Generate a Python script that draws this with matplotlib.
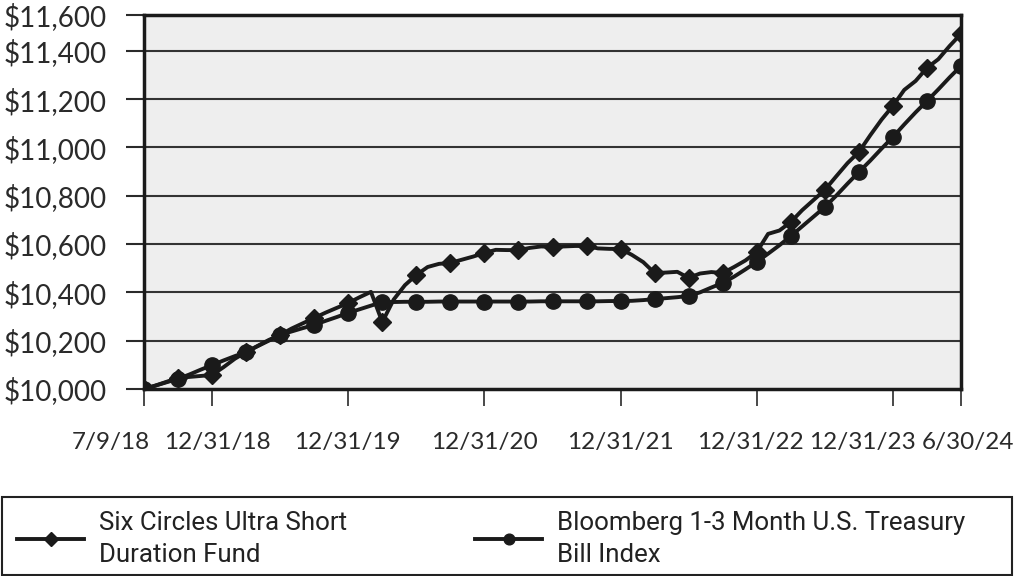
import matplotlib
matplotlib.use("Agg")
import matplotlib.pyplot as plt
import matplotlib.transforms as mtransforms
from matplotlib.patches import Rectangle
import numpy as np

# monthly growth of $10,000, first point 7/9/18, then month ends to 6/30/24
fund = [10000, 10014, 10030, 10046, 10050, 10054, 10058, 10090, 10125, 10153,
        10178, 10203, 10224, 10250, 10272, 10294, 10316, 10336, 10356, 10380,
        10402, 10277, 10370, 10430, 10472, 10505, 10518, 10522, 10535, 10548,
        10563, 10576, 10575, 10575, 10584, 10590, 10588, 10590, 10592, 10592,
        10582, 10580, 10580, 10555, 10525, 10480, 10482, 10485, 10460, 10478,
        10484, 10480, 10505, 10532, 10567, 10642, 10656, 10691, 10740, 10782,
        10824, 10880, 10935, 10981, 11050, 11115, 11172, 11238, 11275, 11329,
        11365, 11420, 11470]
index = [10000, 10014, 10028, 10042, 10060, 10080, 10099, 10118, 10136, 10153,
         10177, 10200, 10224, 10238, 10252, 10265, 10282, 10298, 10315, 10330,
         10345, 10360, 10360, 10361, 10361, 10361, 10362, 10362, 10362, 10362,
         10362, 10362, 10362, 10362, 10362, 10363, 10363, 10363, 10363, 10363,
         10363, 10364, 10364, 10365, 10368, 10372, 10376, 10380, 10385, 10400,
         10420, 10439, 10465, 10495, 10526, 10560, 10595, 10633, 10673, 10713,
         10753, 10800, 10850, 10898, 10945, 10995, 11043, 11095, 11145, 11192,
         11240, 11290, 11337]

tick_pos = [0, 6, 18, 30, 42, 54, 66, 72]
tick_labels = ["7/9/18", "12/31/18", "12/31/19", "12/31/20", "12/31/21",
               "12/31/22", "12/31/23", "6/30/24"]
label_shift = [-33, 5, -1, 0, 0, -6, -30, 7]  # px, labels nudged apart as in source

y_ticks = [10000, 10200, 10400, 10600, 10800, 11000, 11200, 11400, 11548]
y_labels = ["$10,000", "$10,200", "$10,400", "$10,600", "$10,800", "$11,000",
            "$11,200", "$11,400", "$11,600"]

fund_label = "Six Circles Ultra Short\nDuration Fund"
index_label = "Bloomberg 1-3 Month U.S. Treasury\nBill Index"

plt.rcParams['font.family'] = ['Lato', 'DejaVu Sans']

fig = plt.figure(figsize=(10.15, 5.76), dpi=100)
ax = fig.add_axes([144/1015, 1 - 389/576, 817/1015, 374/576])
ax.set_facecolor('#eeeeee')

x = np.arange(len(fund))
l1, = ax.plot(x, fund, color='#1a1a1a', lw=2.8, marker='D', ms=9.5, markevery=3,
              solid_joinstyle='round', zorder=4)
l2, = ax.plot(x, index, color='#1a1a1a', lw=2.8, marker='o', ms=11, markevery=3,
              solid_joinstyle='round', zorder=3)

ax.set_xlim(0, 72)
ax.set_ylim(10000, 11548)
for v in y_ticks[1:-1]:
    ax.axhline(v, color='#333333', lw=1.5, zorder=1)

ax.set_yticks(y_ticks, y_labels)
ax.set_xticks(tick_pos, tick_labels)
ax.tick_params(axis='y', length=13, width=1.5, pad=14, labelsize=20, colors='#2a2a2a')
ax.tick_params(axis='x', length=12, width=1.2, pad=19, labelsize=17.5, colors='#2a2a2a')
for lab, dx in zip(ax.get_xticklabels(), label_shift):
    lab.set_transform(lab.get_transform() + mtransforms.ScaledTranslation(dx/100, 0, fig.dpi_scale_trans))

for s in ax.spines.values():
    s.set_linewidth(2.5)
    s.set_color('#1a1a1a')
    s.set_zorder(5)

# legend box at the bottom
fig.patches.append(Rectangle((2/1015, 1/576), 1010/1015, 78/576, transform=fig.transFigure,
                             facecolor='white', edgecolor='#222222', lw=1.5))
leg_font = {'family': ['Roboto', 'DejaVu Sans'], 'size': 18.6}
for line, lab, x0 in [(l1, fund_label, -6), (l2, index_label, 452)]:
    leg = fig.legend([line], [lab], loc='center left', bbox_to_anchor=(x0/1015, 37/576),
                     frameon=False, prop=leg_font, handlelength=2.6, handletextpad=0.58,
                     markerscale=0.7)
    leg.get_texts()[0].set_linespacing(1.45)
    leg.get_texts()[0].set_color('#222222')

fig.savefig("out.png", dpi=100)
